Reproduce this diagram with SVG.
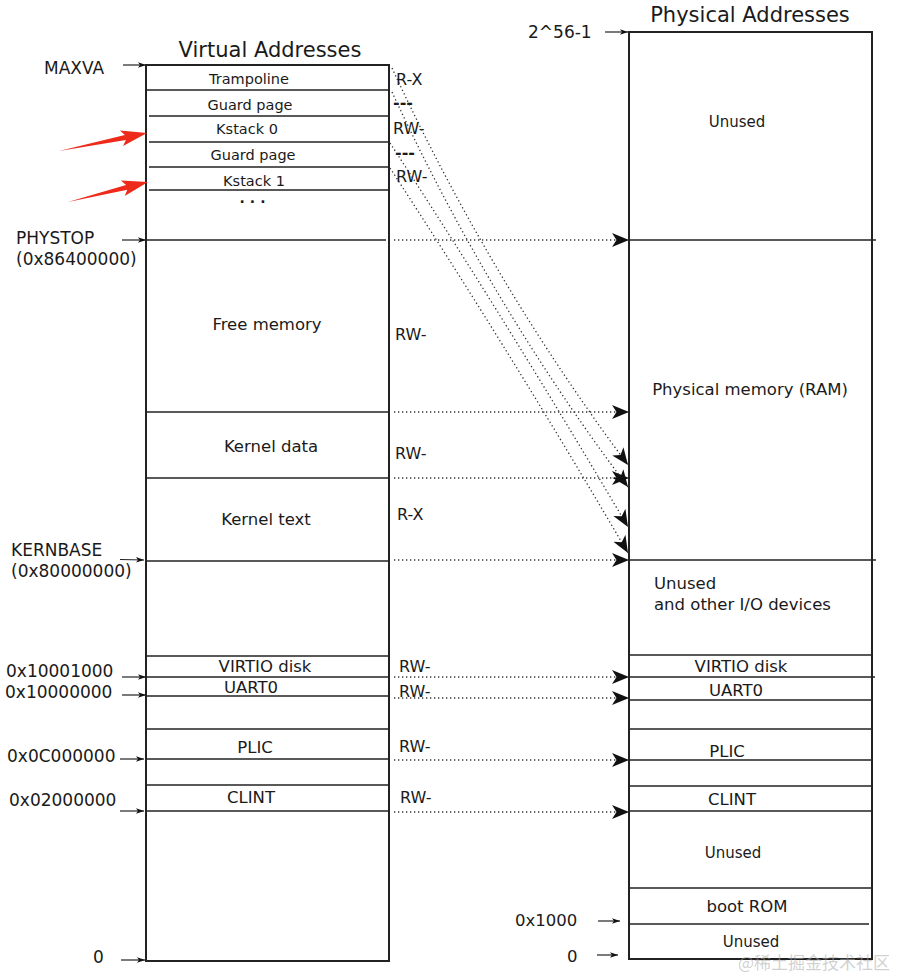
<svg xmlns="http://www.w3.org/2000/svg" width="901" height="974" viewBox="0 0 901 974">
<defs>
<style>
text{font-family:"DejaVu Sans","Liberation Sans",sans-serif;fill:#1a1a1a}
.t{font-size:21px}
.s{font-size:14.5px;text-anchor:middle}
.m{font-size:16.5px;text-anchor:middle}
.u{font-size:15px;text-anchor:middle}
.l{font-size:17px}
.p{font-size:16px}
.d{font-size:16px;font-weight:bold}
.box{fill:#fff;stroke:#222;stroke-width:2}
.ln{stroke:#222;stroke-width:1.4;fill:none}
.dot{stroke:#333;stroke-width:1.3;stroke-dasharray:1.3 2.7;fill:none}
.sa{stroke:#222;stroke-width:1.2;fill:none}
</style>
<marker id="big" markerUnits="userSpaceOnUse" markerWidth="19" markerHeight="15" refX="17" refY="7.5" orient="auto" viewBox="0 0 19 15"><path d="M17,7.5 L0,0.5 L4.5,7.5 L0,14.5 Z" fill="#111"/></marker>
<marker id="sm" markerUnits="userSpaceOnUse" markerWidth="9" markerHeight="6" refX="8" refY="3" orient="auto" viewBox="0 0 9 6"><path d="M8,3 L0,0.2 L2,3 L0,5.8 Z" fill="#111"/></marker>
</defs>
<rect width="901" height="974" fill="#fff"/>

<g id="virtual">
<text class="t" x="270" y="57" text-anchor="middle">Virtual Addresses</text>
<rect class="box" x="146" y="65" width="243" height="896"/>
<g id="v-trampoline"><line class="ln" x1="146" y1="90" x2="389" y2="90"/><text class="s" x="249" y="84">Trampoline</text><text class="p" x="396" y="85">R-X</text></g>
<g id="v-guard0"><line class="ln" x1="149" y1="116" x2="389" y2="116"/><text class="s" x="250" y="110">Guard page</text><text class="d" x="393" y="108">---</text></g>
<g id="v-kstack0"><line class="ln" x1="149" y1="142" x2="389" y2="142"/><text class="s" x="247" y="134">Kstack 0</text><text class="p" x="393" y="134">RW-</text></g>
<g id="v-guard1"><line class="ln" x1="149" y1="167" x2="389" y2="167"/><text class="s" x="253" y="160">Guard page</text><text class="d" x="395" y="158">---</text></g>
<g id="v-kstack1"><line class="ln" x1="149" y1="190" x2="389" y2="190"/><text class="s" x="254" y="186">Kstack 1</text><text class="p" x="396" y="182">RW-</text></g>
<text x="255" y="203" style="font-size:14px;font-weight:bold;text-anchor:middle;letter-spacing:5px">...</text>
<g id="v-free"><line class="ln" x1="146" y1="240" x2="386" y2="240"/><text class="m" x="267" y="330">Free memory</text><text class="p" x="395" y="340">RW-</text></g>
<g id="v-kdata"><line class="ln" x1="146" y1="412" x2="389" y2="412"/><text class="m" x="271" y="452">Kernel data</text><text class="p" x="395" y="459">RW-</text></g>
<g id="v-ktext"><line class="ln" x1="146" y1="478" x2="389" y2="478"/><text class="m" x="266" y="525">Kernel text</text><text class="p" x="397" y="520">R-X</text></g>
<line class="ln" x1="146" y1="561" x2="389" y2="561"/>
<g id="v-virtio"><line class="ln" x1="146" y1="656" x2="389" y2="656"/><line class="ln" x1="146" y1="677" x2="389" y2="677"/><text class="m" x="265" y="672">VIRTIO disk</text><text class="p" x="399" y="672">RW-</text></g>
<g id="v-uart"><line class="ln" x1="146" y1="696" x2="389" y2="696"/><text class="m" x="251" y="693">UART0</text><text class="p" x="399" y="697">RW-</text></g>
<g id="v-plic"><line class="ln" x1="146" y1="729" x2="389" y2="729"/><line class="ln" x1="146" y1="759" x2="389" y2="759"/><text class="m" x="255" y="753">PLIC</text><text class="p" x="399" y="752">RW-</text></g>
<g id="v-clint"><line class="ln" x1="146" y1="785" x2="389" y2="785"/><line class="ln" x1="146" y1="811" x2="389" y2="811"/><text class="m" x="251" y="803">CLINT</text><text class="p" x="400" y="803">RW-</text></g>
</g>

<g id="v-addr">
<text class="l" x="44" y="74">MAXVA</text><line class="sa" x1="123" y1="65" x2="146" y2="65" marker-end="url(#sm)"/>
<text class="l" x="16" y="244">PHYSTOP</text><text class="l" x="16" y="265">(0x86400000)</text><line class="sa" x1="122" y1="240" x2="146" y2="240" marker-end="url(#sm)"/>
<text class="l" x="11" y="556">KERNBASE</text><text class="l" x="11" y="577">(0x80000000)</text><line class="sa" x1="120" y1="559.5" x2="144" y2="560" marker-end="url(#sm)"/>
<text class="l" x="6" y="677">0x10001000</text><line class="sa" x1="122" y1="677" x2="146" y2="677" marker-end="url(#sm)"/>
<text class="l" x="5" y="698">0x10000000</text><line class="sa" x1="122" y1="695" x2="146" y2="695" marker-end="url(#sm)"/>
<text class="l" x="7" y="762">0x0C000000</text><line class="sa" x1="120" y1="759" x2="144" y2="759" marker-end="url(#sm)"/>
<text class="l" x="9" y="806">0x02000000</text><line class="sa" x1="120" y1="811" x2="144" y2="811" marker-end="url(#sm)"/>
<text class="l" x="93" y="963">0</text><line class="sa" x1="121" y1="960" x2="145" y2="960" marker-end="url(#sm)"/>
</g>

<g id="physical">
<text class="t" x="750" y="22" text-anchor="middle">Physical Addresses</text>
<rect class="box" x="629" y="32" width="243" height="927"/>
<g id="p-unused-top"><text class="u" x="737" y="127">Unused</text></g>
<g id="p-ram"><line class="ln" x1="629" y1="240" x2="876" y2="240"/><text class="m" x="750" y="395">Physical memory (RAM)</text></g>
<g id="p-io"><line class="ln" x1="629" y1="560" x2="876" y2="560"/><text class="l" x="654" y="589" style="font-size:16.5px">Unused</text><text class="l" x="654" y="610" style="font-size:16.5px">and other I/O devices</text></g>
<g id="p-virtio"><line class="ln" x1="629" y1="655" x2="871" y2="655"/><line class="ln" x1="629" y1="677" x2="875" y2="677"/><text class="m" x="741" y="672">VIRTIO disk</text></g>
<g id="p-uart"><line class="ln" x1="629" y1="700" x2="871" y2="700"/><text class="m" x="736" y="696">UART0</text></g>
<g id="p-plic"><line class="ln" x1="629" y1="729" x2="871" y2="729"/><line class="ln" x1="629" y1="760" x2="871" y2="760"/><text class="m" x="727" y="757">PLIC</text></g>
<g id="p-clint"><line class="ln" x1="629" y1="786" x2="871" y2="786"/><line class="ln" x1="629" y1="811" x2="871" y2="811"/><text class="m" x="732" y="805">CLINT</text></g>
<g id="p-unused-mid"><text class="u" x="733" y="858">Unused</text></g>
<g id="p-bootrom"><line class="ln" x1="629" y1="888" x2="871" y2="888"/><text class="m" x="747" y="912">boot ROM</text></g>
<g id="p-unused-bot"><line class="ln" x1="628" y1="924" x2="869" y2="924"/><text class="u" x="751" y="947">Unused</text></g>
</g>

<g id="p-addr">
<text class="l" x="528" y="38">2^56-1</text><line class="sa" x1="605" y1="32" x2="628" y2="32" marker-end="url(#sm)"/>
<text class="l" x="515" y="926" style="font-size:16.5px">0x1000</text><line class="sa" x1="598" y1="921" x2="620" y2="921" marker-end="url(#sm)"/>
<text class="l" x="567" y="962" style="font-size:16.5px">0</text><line class="sa" x1="597" y1="955" x2="618" y2="955" marker-end="url(#sm)"/>
</g>

<g id="connectors">
<line class="dot" x1="394" y1="240" x2="629" y2="240" marker-end="url(#big)"/>
<line class="dot" x1="394" y1="412" x2="629" y2="412" marker-end="url(#big)"/>
<line class="dot" x1="394" y1="478" x2="629" y2="478" marker-end="url(#big)"/>
<line class="dot" x1="394" y1="560" x2="629" y2="560" marker-end="url(#big)"/>
<line class="dot" x1="394" y1="677" x2="629" y2="677" marker-end="url(#big)"/>
<line class="dot" x1="394" y1="698" x2="629" y2="698" marker-end="url(#big)"/>
<line class="dot" x1="394" y1="760" x2="629" y2="760" marker-end="url(#big)"/>
<line class="dot" x1="394" y1="812" x2="629" y2="812" marker-end="url(#big)"/>
<path class="dot" d="M392,68 Q490,280 628,465" marker-end="url(#big)"/>
<path class="dot" d="M392,92 Q490,304 628,487" marker-end="url(#big)"/>
<path class="dot" d="M390,143 Q512,330 628,527" marker-end="url(#big)"/>
<path class="dot" d="M390,168 Q512,355 628,553" marker-end="url(#big)"/>
</g>

<g id="red-arrows" fill="#ee2a1b">
<polygon points="59,151 124.9,135 119.9,130.4 147,133 123.1,146 125.9,139.9"/>
<polygon points="68,202 126.1,184.9 120.9,180.5 148,182 124.7,196.1 127.3,189.7"/>
</g>

<text x="738" y="969" style="font-family:'Noto Sans CJK SC','DejaVu Sans',sans-serif;font-size:17px;fill:#aaa;fill-opacity:0.55">@稀土掘金技术社区</text>
</svg>
